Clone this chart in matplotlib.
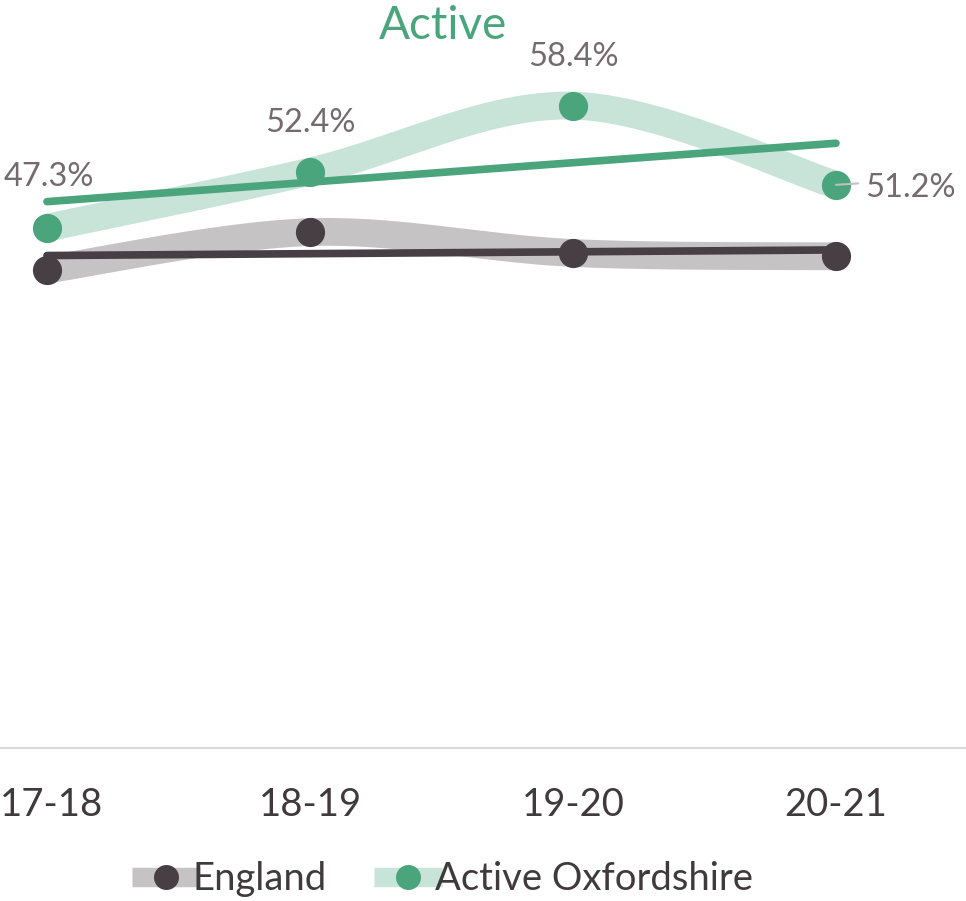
import numpy as np
import matplotlib
matplotlib.use("Agg")
import matplotlib.pyplot as plt
from matplotlib.lines import Line2D
from matplotlib.transforms import ScaledTranslation

# survey years and percentage of adults classed as active
years = ["17-18", "18-19", "19-20", "20-21"]
england = [43.5, 46.9, 45.0, 44.7]
oxfordshire = [47.3, 52.4, 58.4, 51.2]

DARK = "#473f43"
GREY_BAND = "#c5c3c4"
GREEN = "#4aa47c"
GREEN_BAND = "#c8e4d8"
LABEL = "#756a6e"
TICK = "#403a3c"

plt.rcParams["font.family"] = ["Lato", "DejaVu Sans"]


def smooth(xs, ys, n=60):
    # bezier smoothing like the spreadsheet "smoothed line" option
    pts = np.column_stack([xs, ys]).astype(float)
    out = []
    for i in range(len(pts) - 1):
        p0 = pts[max(i - 1, 0)]
        p1 = pts[i]
        p2 = pts[i + 1]
        p3 = pts[min(i + 2, len(pts) - 1)]
        c1 = p1 + (p2 - p0) / 6
        c2 = p2 - (p3 - p1) / 6
        t = np.linspace(0, 1, n)[:, None]
        seg = (1 - t) ** 3 * p1 + 3 * (1 - t) ** 2 * t * c1 + 3 * (1 - t) * t ** 2 * c2 + t ** 3 * p2
        out.append(seg if i == 0 else seg[1:])
    s = np.vstack(out)
    return s[:, 0], s[:, 1]


fig = plt.figure(figsize=(9.66, 9.01), dpi=100)
ax = fig.add_axes([-0.0875, 0.1698, 1.089, 0.8546])
x = np.arange(len(years))

for vals, band, col in [(england, GREY_BAND, DARK), (oxfordshire, GREEN_BAND, GREEN)]:
    sx, sy = smooth(x, vals)
    ax.plot(sx, sy, color=band, lw=20, solid_capstyle="butt", zorder=2)
    ax.plot(x, vals, "o", color=col, ms=21, mec="none", zorder=3)
    k, b = np.polyfit(x, vals, 1)
    ax.plot(x, k * x + b, color=col, lw=5.5, solid_capstyle="round", zorder=4)

# data labels for Active Oxfordshire
offsets = [(1, 39, "center"), (0, 37.5, "center"), (0, 37.5, "center"), (21, 0, "left")]
for xi, v, (dx, dy, ha) in zip(x, oxfordshire, offsets):
    ax.annotate(f"{v:.1f}%", (xi, v), xytext=(dx, dy), textcoords="offset points",
                ha=ha, va="center_baseline", color=LABEL, fontsize=23.5, zorder=5)
ax.annotate("", (x[-1], oxfordshire[-1]), xytext=(16, 1), textcoords="offset points",
            arrowprops=dict(arrowstyle="-", color="#bfbfbf", lw=1.5, shrinkA=0, shrinkB=0))

ax.set_xlim(-0.5, 3.5)
ax.set_ylim(0, 70)
ax.set_xticks(x)
ax.set_xticklabels(years, fontsize=27.5, color=TICK)
ax.tick_params(axis="x", length=0, pad=28)
first = ax.get_xticklabels()[0]
first.set_transform(first.get_transform() + ScaledTranslation(0.045, 0, fig.dpi_scale_trans))
ax.set_yticks([])
for side in ["left", "right", "top"]:
    ax.spines[side].set_visible(False)
ax.spines["bottom"].set_color("#d9d9d9")
ax.spines["bottom"].set_linewidth(1.5)

fig.text(443 / 966, 1 - 22 / 901, "Active", ha="center", va="center_baseline", color=GREEN, fontsize=33)

handles = [
    Line2D([], [], color=GREY_BAND, lw=14, marker="o", ms=18, mfc=DARK, mec="none",
           solid_capstyle="butt"),
    Line2D([], [], color=GREEN_BAND, lw=14, marker="o", ms=18, mfc=GREEN, mec="none",
           solid_capstyle="butt"),
]
fig.legend(handles, ["England", "Active Oxfordshire"], loc="center", ncol=2,
           bbox_to_anchor=(0.458, 1 - 879 / 901), frameon=False, fontsize=27.5,
           handlelength=1.78, handletextpad=-0.2, columnspacing=1.25, labelcolor=TICK)

fig.savefig("out.png", dpi=100, facecolor="white")
